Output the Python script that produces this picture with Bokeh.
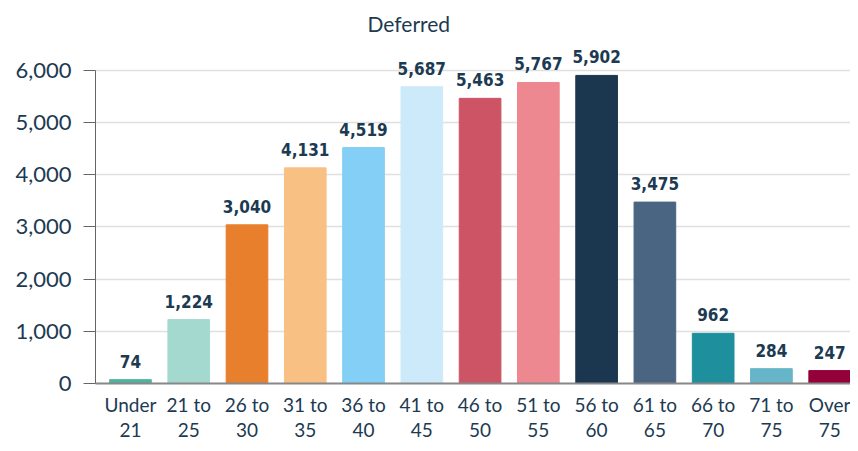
from bokeh.plotting import figure
from bokeh.models import ColumnDataSource, Range1d, FixedTicker, NumeralTickFormatter
from bokeh.core.properties import value
from bokeh.embed import file_html
from bokeh.resources import INLINE

categories = ["Under\n21", "21 to\n25", "26 to\n30", "31 to\n35", "36 to\n40", "41 to\n45",
              "46 to\n50", "51 to\n55", "56 to\n60", "61 to\n65", "66 to\n70", "71 to\n75", "Over\n75"]
values = [74, 1224, 3040, 4131, 4519, 5687, 5463, 5767, 5902, 3475, 962, 284, 247]
colors = ["#4fb3a1", "#a4d9d0", "#e87f2c", "#f8c083", "#83cff5", "#cdeafb",
          "#cc5465", "#ee8890", "#1a374f", "#4a6582", "#1e8f9c", "#66b5c8", "#93003a"]
y_ticks = [0, 1000, 2000, 3000, 4000, 5000, 6000]

idx = list(range(len(categories)))
src = ColumnDataSource(dict(x=idx, top=values, color=colors,
                            label=[f"{v:,}" for v in values]))

TXT = "#1c3a52"
p = figure(width=850, height=443, output_backend="svg", toolbar_location=None,
           x_range=Range1d(-0.6, 12.357), y_range=Range1d(0, 6571),
           min_border_left=95, min_border_right=0, min_border_top=40, min_border_bottom=58)
p.outline_line_color = None
p.background_fill_color = "white"
p.border_fill_color = "white"

p.vbar(x="x", top="top", width=0.715, color="color", source=src)
p.text(x="x", y="top", text="label", source=src, text_align="center", text_baseline="bottom",
       y_offset=-12, text_font=value("'DejaVu Sans Condensed', 'Roboto'"), text_font_style="bold",
       text_font_size="17px", text_color=TXT)

p.title.text = "Deferred"
p.title.align = "left"
p.title.offset = 272
p.title.text_font = "Lato"
p.title.text_font_style = "normal"
p.title.text_font_size = "21px"
p.title.text_color = TXT

p.xaxis.ticker = FixedTicker(ticks=idx)
p.xaxis.major_label_overrides = {i: c for i, c in zip(idx, categories)}
p.xaxis.major_tick_line_color = None
p.xaxis.major_tick_out = 0
p.xaxis.major_tick_in = 0
p.xaxis.minor_tick_line_color = None
p.xaxis.axis_line_color = "#888888"
p.xaxis.axis_line_width = 2
p.xaxis.major_label_text_font = "Lato"
p.xaxis.major_label_text_font_size = "19px"
p.xaxis.major_label_text_line_height = 1.1
p.xaxis.major_label_text_color = TXT
p.xaxis.major_label_standoff = 9

p.yaxis.ticker = FixedTicker(ticks=y_ticks)
p.yaxis.bounds = (0, 6000)
p.yaxis.formatter = NumeralTickFormatter(format="0,0")
p.yaxis.major_tick_out = 12
p.yaxis.major_tick_in = 0
p.yaxis.minor_tick_line_color = None
p.yaxis.axis_line_color = "#666666"
p.yaxis.major_tick_line_color = "#666666"
p.yaxis.major_label_text_font = "Lato"
p.yaxis.major_label_text_font_size = "22px"
p.yaxis.major_label_text_color = TXT
p.yaxis.major_label_standoff = 12

p.xgrid.grid_line_color = None
p.ygrid.grid_line_color = "#e0e0e0"
p.ygrid.grid_line_width = 1.5

open("out.html", "w").write(file_html(p, INLINE))
